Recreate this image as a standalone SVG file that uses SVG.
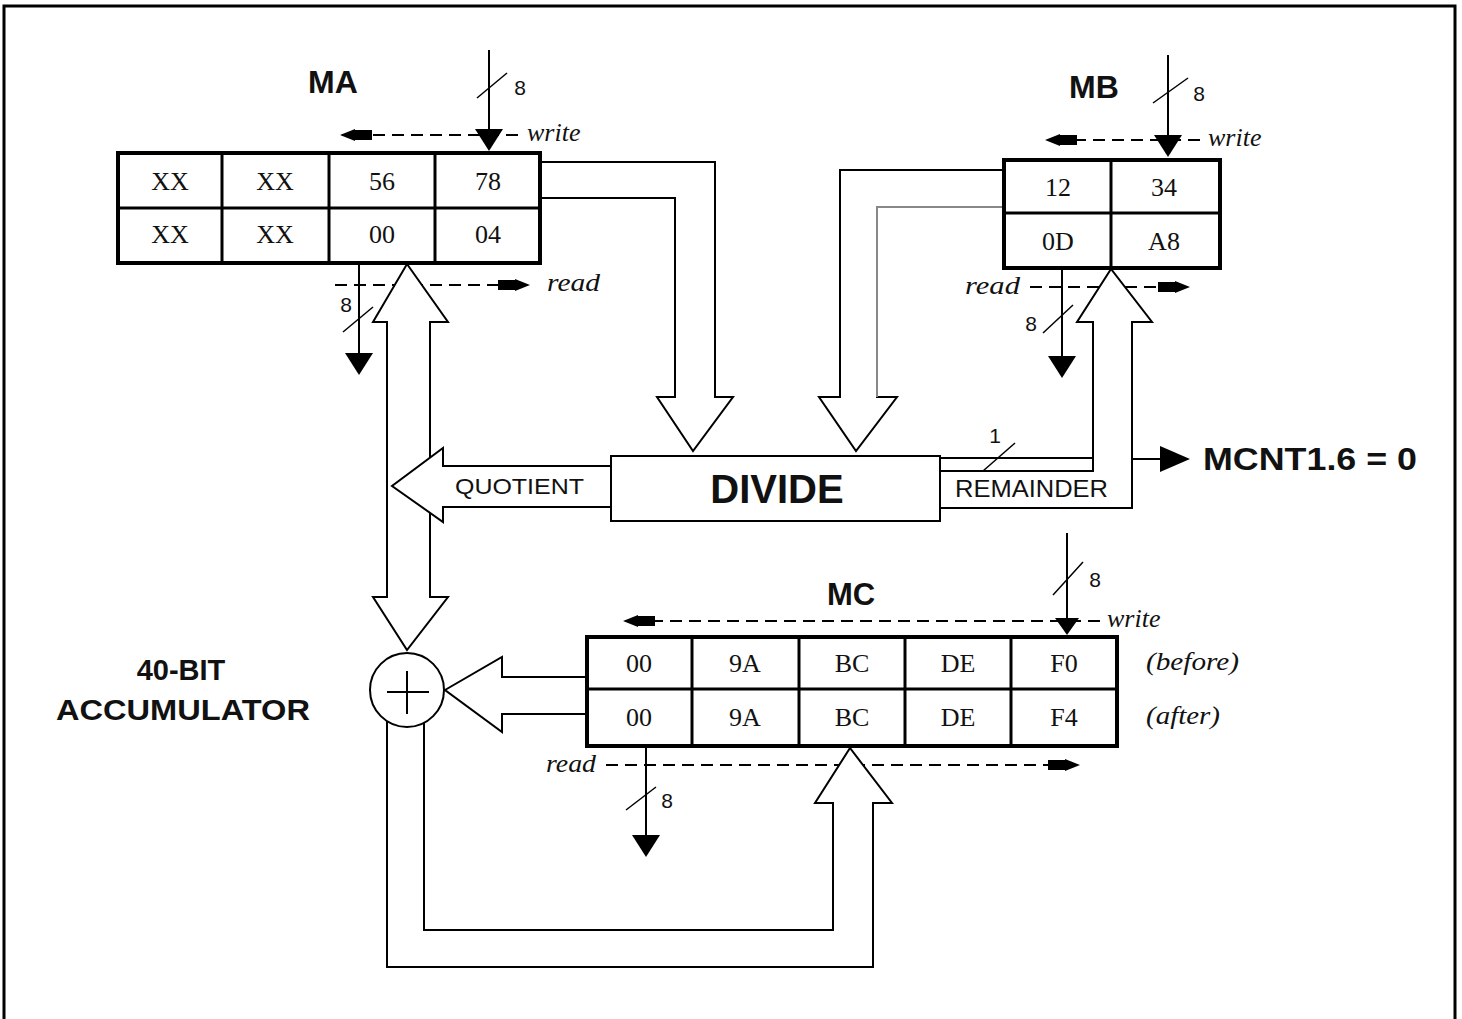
<svg xmlns="http://www.w3.org/2000/svg" xmlns:xlink="http://www.w3.org/1999/xlink" width="1462" height="1019" viewBox="0 0 1462 1019">
<style>
  .reg { fill:#fff; stroke:#000; stroke-width:4; }
  .div { stroke:#000; stroke-width:3; }
  .cell { font-family:"Liberation Serif","Times New Roman",serif; font-size:26px; text-anchor:middle; fill:#111; }
  .title { font-family:"Liberation Sans",Arial,sans-serif; font-weight:bold; fill:#111; }
  .plain { font-family:"Liberation Sans",Arial,sans-serif; fill:#111; }
  .ital { font-family:"Liberation Serif","Times New Roman",serif; font-style:italic; font-size:26px; fill:#111; }
  .lab { font-family:"Liberation Sans",Arial,sans-serif; font-size:21px; fill:#111; }
  .bus { fill:none; stroke:#000; stroke-width:2; }
  .hollow { fill:#fff; stroke:#000; stroke-width:2; stroke-linejoin:miter; }
  .gray { fill:none; stroke:#888; stroke-width:2; }
  .dash { fill:none; stroke:#000; stroke-width:2; stroke-dasharray:12 7; }
  .sig { stroke:#000; stroke-width:2; fill:none; }
  .slash { stroke:#000; stroke-width:1.5; }
  .head { fill:#000; }
</style>
<defs>
  <path id="sarr" d="M0,0 L-15,-6 L-15,-5 L-32,-5 L-32,5 L-15,5 L-15,6 Z" fill="#000"/>
  <path id="tri" d="M0,0 L-14,-22 L14,-22 Z" fill="#000"/>
</defs>

<!-- frame -->
<path d="M4,1024 V6 H1455 V1024" fill="none" stroke="#000" stroke-width="3"/>

<!-- connectors -->
<g id="connectors">
  <!-- dashed read/write lines (drawn under hollow buses) -->
  <line class="dash" x1="518" y1="135" x2="342" y2="135"/>
  <use xlink:href="#sarr" href="#sarr" transform="translate(340,135) rotate(180)"/>
  <line class="dash" x1="335" y1="285" x2="500" y2="285"/>
  <use xlink:href="#sarr" href="#sarr" transform="translate(530,285)"/>

  <line class="dash" x1="1200" y1="140" x2="1048" y2="140"/>
  <use xlink:href="#sarr" href="#sarr" transform="translate(1045,140) rotate(180)"/>
  <line class="dash" x1="1030" y1="287" x2="1160" y2="287"/>
  <use xlink:href="#sarr" href="#sarr" transform="translate(1190,287)"/>

  <line class="dash" x1="1100" y1="621" x2="626" y2="621"/>
  <use xlink:href="#sarr" href="#sarr" transform="translate(623,621) rotate(180)"/>
  <line class="dash" x1="606" y1="765" x2="1050" y2="765"/>
  <use xlink:href="#sarr" href="#sarr" transform="translate(1080,765)"/>

  <!-- write inputs -->
  <line class="sig" x1="489" y1="50" x2="489" y2="140"/>
  <use xlink:href="#tri" href="#tri" transform="translate(489,151)"/>
  <line class="slash" x1="477" y1="98" x2="507" y2="73"/>
  <text class="lab" x="520" y="95" text-anchor="middle">8</text>

  <line class="sig" x1="1168" y1="55" x2="1168" y2="145"/>
  <use xlink:href="#tri" href="#tri" transform="translate(1168,157)"/>
  <line class="slash" x1="1153" y1="103" x2="1188" y2="78"/>
  <text class="lab" x="1199" y="101" text-anchor="middle">8</text>

  <line class="sig" x1="1067" y1="533" x2="1067" y2="625"/>
  <path d="M1067,635 L1055,618 L1079,618 Z" class="head"/>
  <line class="slash" x1="1053" y1="595" x2="1083" y2="562"/>
  <text class="lab" x="1095" y="587" text-anchor="middle">8</text>

  <!-- read outputs -->
  <line class="sig" x1="359" y1="263" x2="359" y2="360"/>
  <use xlink:href="#tri" href="#tri" transform="translate(359,375)"/>
  <line class="slash" x1="343" y1="332" x2="373" y2="307"/>
  <text class="lab" x="346" y="312" text-anchor="middle">8</text>

  <line class="sig" x1="1062" y1="268" x2="1062" y2="362"/>
  <use xlink:href="#tri" href="#tri" transform="translate(1062,378)"/>
  <line class="slash" x1="1043" y1="333" x2="1073" y2="305"/>
  <text class="lab" x="1031" y="331" text-anchor="middle">8</text>

  <line class="sig" x1="646" y1="747" x2="646" y2="842"/>
  <use xlink:href="#tri" href="#tri" transform="translate(646,857)"/>
  <line class="slash" x1="626" y1="810" x2="656" y2="787"/>
  <text class="lab" x="667" y="808" text-anchor="middle">8</text>

  <!-- MA to DIVIDE -->
  <path class="hollow" d="M540,162 H715 V397 H733 L693,451 L657,397 H675 V198 H540"/>
  <!-- MB to DIVIDE -->
  <path class="hollow" d="M1004,170 H840 V397 H819 L856,451 L897,397 H877 V207 H1004"/>
  <path class="gray" d="M877,397 V207 H1004"/>

  <!-- MA bus to adder (double-headed) -->
  <polygon class="hollow" points="407,264 448,322 430,322 430,597 448,597 407,650 373,597 387,597 387,322 373,322"/>

  <!-- QUOTIENT -->
  <path class="hollow" d="M611,466 H443 V448 L392,486 L443,522 V507 H611"/>
  <text class="plain" x="455" y="494" font-size="22" textLength="129" lengthAdjust="spacingAndGlyphs">QUOTIENT</text>

  <!-- REMAINDER to MB -->
  <line class="sig" x1="940" y1="458" x2="1093" y2="458"/>
  <path class="hollow" d="M940,471 H1093 V322 H1077 L1111,269 L1152,322 H1132 V508 H940"/>
  <line class="slash" x1="983" y1="471" x2="1015" y2="443"/>
  <text class="lab" x="995" y="443" text-anchor="middle" font-family="Liberation Serif">1</text>
  <text class="plain" x="955" y="497" font-size="24" textLength="153" lengthAdjust="spacingAndGlyphs">REMAINDER</text>

  <!-- MCNT output -->
  <line class="sig" x1="1132" y1="459" x2="1162" y2="459"/>
  <path class="head" d="M1160,446 L1190,459 L1160,472 Z"/>

  <!-- MC to adder -->
  <path class="hollow" d="M587,677 H502 V657 L445,690 L502,732 V714 H587"/>

  <!-- accumulator feedback to MC -->
  <path class="hollow" d="M387,715 V967 H873 V803 H892 L850,748 L815,803 H833 V930 H424 V715"/>
</g>

<!-- DIVIDE -->
<g id="divide">
  <rect x="611" y="456" width="329" height="65" fill="#fff" stroke="#000" stroke-width="2"/>
  <text class="title" x="777" y="503" font-size="40" text-anchor="middle">DIVIDE</text>
</g>

<!-- adder -->
<g id="adder">
  <circle cx="407" cy="690" r="37" fill="#fff" stroke="#000" stroke-width="2"/>
  <line x1="387" y1="692" x2="429" y2="692" stroke="#000" stroke-width="2"/>
  <line x1="407" y1="671" x2="407" y2="714" stroke="#000" stroke-width="2"/>
</g>

<!-- accumulator label -->
<g id="accumulator-label">
  <text class="title" x="181" y="680" font-size="29" text-anchor="middle">40-BIT</text>
  <text class="title" x="56" y="720" font-size="29" textLength="254" lengthAdjust="spacingAndGlyphs">ACCUMULATOR</text>
</g>

<!-- MA -->
<g id="MA">
  <text class="title" x="333" y="93" font-size="32" text-anchor="middle">MA</text>
  <rect class="reg" x="118" y="153" width="422" height="110"/>
  <line class="div" x1="222" y1="153" x2="222" y2="263"/>
  <line class="div" x1="329" y1="153" x2="329" y2="263"/>
  <line class="div" x1="435" y1="153" x2="435" y2="263"/>
  <line class="div" x1="118" y1="208" x2="540" y2="208"/>
  <text class="cell" x="170" y="190">XX</text>
  <text class="cell" x="275" y="190">XX</text>
  <text class="cell" x="382" y="190">56</text>
  <text class="cell" x="488" y="190">78</text>
  <text class="cell" x="170" y="243">XX</text>
  <text class="cell" x="275" y="243">XX</text>
  <text class="cell" x="382" y="243">00</text>
  <text class="cell" x="488" y="243">04</text>
  <text class="ital" x="527" y="141">write</text>
  <text class="ital" x="547" y="291" textLength="53" lengthAdjust="spacingAndGlyphs">read</text>
</g>

<!-- MB -->
<g id="MB">
  <text class="title" x="1094" y="98" font-size="32" text-anchor="middle">MB</text>
  <rect class="reg" x="1004" y="160" width="216" height="108"/>
  <line class="div" x1="1111" y1="160" x2="1111" y2="268"/>
  <line class="div" x1="1004" y1="213" x2="1220" y2="213"/>
  <text class="cell" x="1058" y="196">12</text>
  <text class="cell" x="1164" y="196">34</text>
  <text class="cell" x="1058" y="250">0D</text>
  <text class="cell" x="1164" y="250">A8</text>
  <text class="ital" x="1208" y="146">write</text>
  <text class="ital" x="965" y="294" textLength="55" lengthAdjust="spacingAndGlyphs">read</text>
</g>

<!-- MC -->
<g id="MC">
  <text class="title" x="851" y="605" font-size="31" text-anchor="middle">MC</text>
  <rect class="reg" x="587" y="637" width="530" height="109"/>
  <line class="div" x1="692" y1="637" x2="692" y2="746"/>
  <line class="div" x1="799" y1="637" x2="799" y2="746"/>
  <line class="div" x1="905" y1="637" x2="905" y2="746"/>
  <line class="div" x1="1011" y1="637" x2="1011" y2="746"/>
  <line class="div" x1="587" y1="689" x2="1117" y2="689"/>
  <text class="cell" x="639" y="672">00</text>
  <text class="cell" x="745" y="672">9A</text>
  <text class="cell" x="852" y="672">BC</text>
  <text class="cell" x="958" y="672">DE</text>
  <text class="cell" x="1064" y="672">F0</text>
  <text class="cell" x="639" y="726">00</text>
  <text class="cell" x="745" y="726">9A</text>
  <text class="cell" x="852" y="726">BC</text>
  <text class="cell" x="958" y="726">DE</text>
  <text class="cell" x="1064" y="726">F4</text>
  <text class="ital" x="1107" y="627" font-size="24">write</text>
  <text class="ital" x="546" y="772" textLength="50" lengthAdjust="spacingAndGlyphs">read</text>
  <text class="ital" x="1146" y="670" textLength="93" lengthAdjust="spacingAndGlyphs">(before)</text>
  <text class="ital" x="1146" y="724" textLength="74" lengthAdjust="spacingAndGlyphs">(after)</text>
</g>

<!-- MCNT label -->
<g id="mcnt-label">
  <text class="title" x="1203" y="470" font-size="32" textLength="214" lengthAdjust="spacingAndGlyphs">MCNT1.6 = 0</text>
</g>
</svg>
